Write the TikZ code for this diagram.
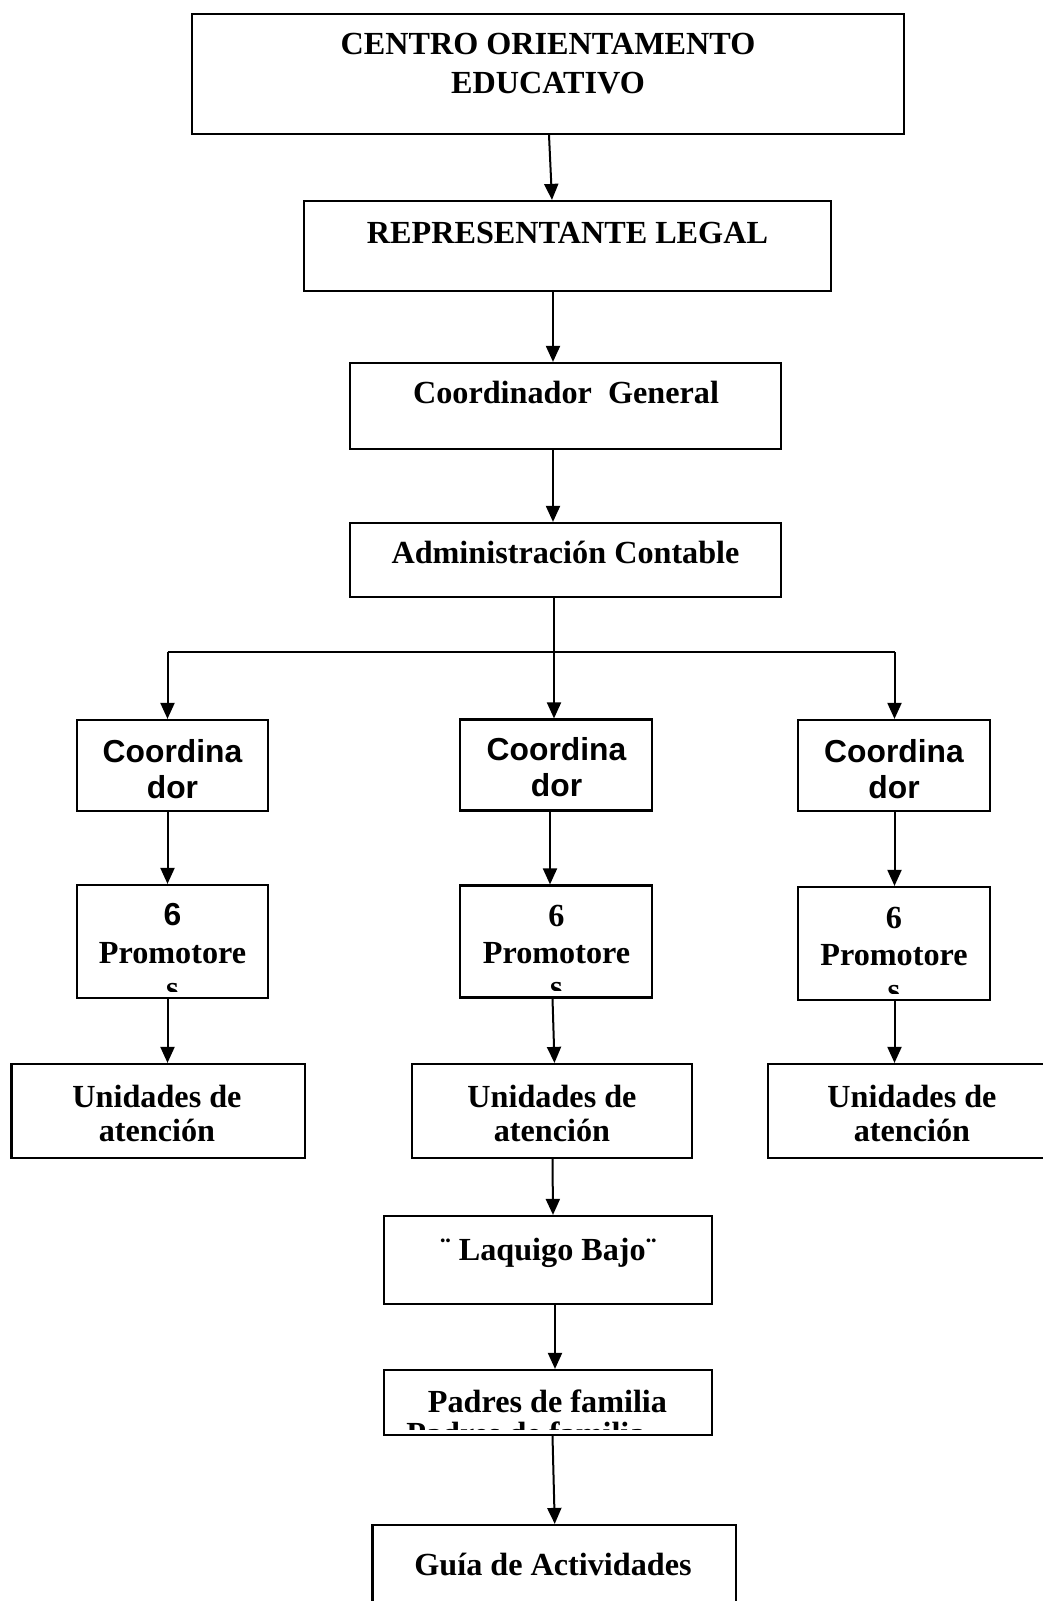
\documentclass[tikz,border=0pt]{standalone}
\usepackage{fontspec}
\setmainfont{Liberation Serif}
\newfontfamily\arialf{Liberation Sans}
\usetikzlibrary{arrows.meta}
\tikzset{
  box/.style={draw, line width=2.2pt, inner sep=0pt, rectangle},
  arr/.style={line width=2pt, -{Triangle[length=16pt,width=14pt]}},
  conn/.style={line width=2pt},
  ser/.style={inner sep=0pt, anchor=base, font=\bfseries\fontsize{32.2}{38}\selectfont},
  san/.style={inner sep=0pt, anchor=base, font=\arialf\bfseries\fontsize{31.8}{38}\selectfont}
}
\begin{document}
\begin{tikzpicture}[x=1pt,y=-1pt]
\clip (0,0) rectangle (1043,1601);
\fill[white] (0,0) rectangle (1043,1601);

% boxes
\node[box, minimum width=712, minimum height=120] (centro) at (548,74) {};
\node[box, minimum width=527, minimum height=90] (rep) at (567.5,246) {};
\node[box, minimum width=431, minimum height=86] (cg) at (565.5,406) {};
\node[box, minimum width=431, minimum height=74] (ac) at (565.5,560) {};
\node[box, minimum width=191, minimum height=91] (coL) at (172.5,765.5) {};
\node[box, minimum width=192, minimum height=91] (coM) at (556,765) {};
\node[box, minimum width=192, minimum height=91] (coR) at (894,765.5) {};
\node[box, minimum width=191, minimum height=113] (prL) at (172.5,941.5) {};
\node[box, minimum width=192, minimum height=112] (prM) at (556,941.5) {};
\node[box, minimum width=192, minimum height=113] (prR) at (894,943.5) {};
\node[box, minimum width=293.5, minimum height=94] (unL) at (158.25,1111) {};
\node[box, minimum width=280, minimum height=94] (unM) at (552,1111) {};
\node[box, minimum width=279, minimum height=94] (unR) at (907.5,1111) {};
\node[box, minimum width=328, minimum height=88] (laq) at (548,1260) {};
\node[box, minimum width=328, minimum height=65] (pad) at (548,1402.5) {};
\node[box, minimum width=363.5, minimum height=96] (guia) at (554.25,1573) {};

% texts
\node[ser] (t1a) at (548,54) {CENTRO ORIENTAMENTO};
\node[ser] (t1b) at (548,93) {EDUCATIVO};
\node[ser] (t2) at (567.5,243) {REPRESENTANTE LEGAL};
\node[ser] (t3) at (566,403.3) {Coordinador\ \ General};
\node[ser] (t4) at (565.5,563.3) {Administración Contable};

\node[san] (cLa) at (172.5,762.5) {Coordina};
\node[san] (cLb) at (172.5,798.5) {dor};
\node[san] (cMa) at (556.5,760.7) {Coordina};
\node[san] (cMb) at (556.5,796.7) {dor};
\node[san] (cRa) at (894,762.5) {Coordina};
\node[san] (cRb) at (894,798.5) {dor};

\node[san] (pL6) at (172.5,925) {6};
\node[ser] (pLa) at (172.5,963) {Promotore};
\node[ser] (pM6) at (556.5,926.7) {6};
\node[ser] (pMa) at (556.5,963.3) {Promotore};
\node[ser] (pR6) at (894,928) {6};
\node[ser] (pRa) at (894,965) {Promotore};
\begin{scope}
\clip (prL.north west) rectangle ([yshift=8pt]prL.south east);
\node[ser] (pLs) at (172.5,998) {s};
\end{scope}
\begin{scope}
\clip (prM.north west) rectangle ([yshift=8.5pt]prM.south east);
\node[ser] (pMs) at (556.5,997) {s};
\end{scope}
\begin{scope}
\clip (prR.north west) rectangle ([yshift=8pt]prR.south east);
\node[ser] (pRs) at (894,1000) {s};
\end{scope}

\node[ser] (uLa) at (157,1107.5) {Unidades de};
\node[ser] (uLb) at (157,1141.7) {atención};
\node[ser] (uMa) at (552,1107.5) {Unidades de};
\node[ser] (uMb) at (552,1141.7) {atención};
\node[ser] (uRa) at (912,1107.5) {Unidades de};
\node[ser] (uRb) at (912,1141.7) {atención};

\node[ser] (tl) at (548.3,1260) {¨ Laquigo Bajo¨};
\node[ser] (tp) at (547.5,1412) {Padres de familia};
\begin{scope}
\clip (pad.north west) rectangle ([yshift=7pt]pad.south east);
\node[ser] (tp2) at (526,1444) {Padres de familia};
\end{scope}
\node[ser] (tg) at (553,1575) {Guía de Actividades};

% connectors
\draw[arr] ([xshift=1]centro.south) -- ([xshift=-15.5]rep.north);
\draw[arr] ([xshift=-14.5]rep.south) -- ([xshift=-12.5]cg.north);
\draw[arr] ([xshift=-12.5]cg.south) -- ([xshift=-12.5]ac.north);

\coordinate (hub) at (554,652);
\coordinate (hl) at (167.5,652);
\coordinate (hr) at (894.5,652);
\draw[conn] (ac.south -| hub) -- (hub);
\draw[conn] (hl) -- (hr);
\draw[arr] (hl) -- (hl |- coL.north);
\draw[arr] (hub) -- (hub |- coM.north);
\draw[arr] (hr) -- (hr |- coR.north);

\draw[arr] (coL.south -| hl) -- (prL.north -| hl);
\draw[arr] ([xshift=-6]coM.south) -- ([xshift=-6]prM.north);
\draw[arr] (coR.south -| hr) -- (prR.north -| hr);

\draw[arr] (prL.south -| hl) -- (unL.north -| hl);
\draw[arr] ([xshift=-3.5]prM.south) -- ([xshift=2.5]unM.north);
\draw[arr] (prR.south -| hr) -- (unR.north -| hr);

\draw[arr] ([xshift=0.5]unM.south) -- ([xshift=5]laq.north);
\draw[arr] ([xshift=7]laq.south) -- ([xshift=7]pad.north);
\draw[arr] ([xshift=4.5]pad.south) -- ([xshift=0.5]guia.north);
\end{tikzpicture}
\end{document}
